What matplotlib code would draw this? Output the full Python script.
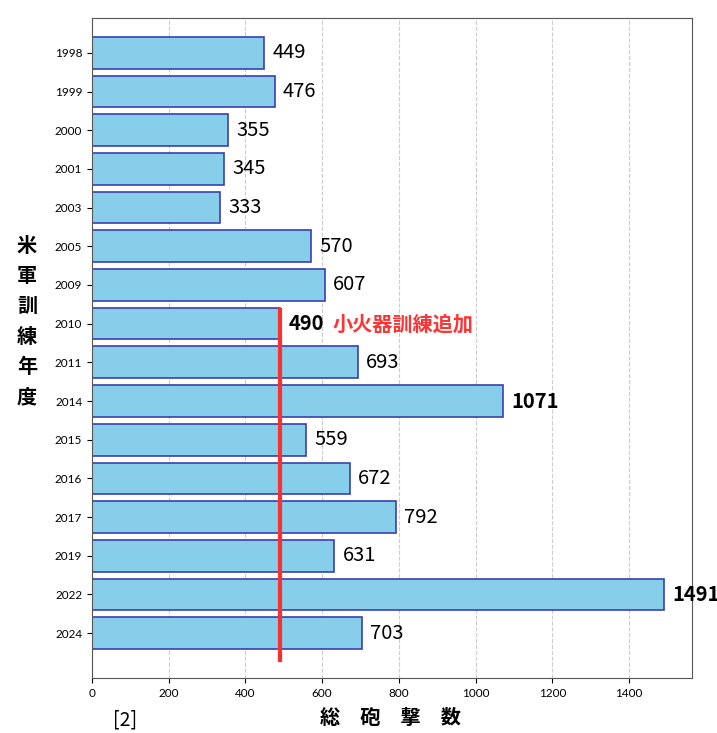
import matplotlib.pyplot as plt
import numpy as np

plt.rcParams['font.family'] = ['Noto Sans CJK JP', 'DejaVu Sans']

years = ['1998', '1999', '2000', '2001', '2003', '2005', '2009', '2010',
         '2011', '2014', '2015', '2016', '2017', '2019', '2022', '2024']
shots = [449, 476, 355, 345, 333, 570, 607, 490,
         693, 1071, 559, 672, 792, 631, 1491, 703]
bold_years = ['2010', '2014', '2022']
marker_value = 490

fig = plt.figure(figsize=(7.17, 7.33), dpi=100)
ax = fig.add_axes([92 / 717, 1 - 678 / 733, 600 / 717, 660 / 733])

y = np.arange(len(years))
ax.barh(y, shots, height=0.82, color='#87CEEB', edgecolor='#3b3fb0', linewidth=1.2, zorder=2)
ax.set_yticks(y)
ax.set_yticklabels(years, fontsize=8.5, family=['Lato', 'DejaVu Sans'])
ax.set_ylim(len(years) - 1 + 1.16, -0.9)
ax.set_xlim(0, 1564)
ax.set_xticks(np.arange(0, 1401, 200))
ax.tick_params(axis='x', labelsize=8.5)
for lab in ax.get_xticklabels():
    lab.set_family(['Lato', 'DejaVu Sans'])
ax.grid(axis='x', linestyle='--', color='#cccccc', linewidth=0.8, zorder=0)
for s in ax.spines.values():
    s.set_color('#555555')

for yi, yr, v in zip(y, years, shots):
    bold = yr in bold_years
    ax.text(v + 22, yi, str(v), va='center', ha='left', fontsize=14.5,
            fontweight='bold' if bold else 'normal', color='black', zorder=4)
    if yr == '2010':
        ax.text(v + 138, yi, '小火器訓練追加', va='center', ha='left', fontsize=14.5,
                fontweight='bold', color='#ff3333', zorder=4)

ax.plot([marker_value, marker_value], [7 - 0.34, 15.7], color='#ff3030', linewidth=3, zorder=3)

fig.text(390 / 717, 1 - 718 / 733, '総　砲　撃　数', fontsize=14.5, fontweight='bold',
         ha='center', va='center')
fig.text(27 / 717, 1 - 321 / 733, '米\n軍\n訓\n練\n年\n度', fontsize=14.5, fontweight='bold',
         ha='center', va='center', linespacing=1.55)
fig.text(113 / 717, 1 - 720 / 733, '[2]', fontsize=14, ha='left', va='center')

fig.savefig('out.png', dpi=100)
